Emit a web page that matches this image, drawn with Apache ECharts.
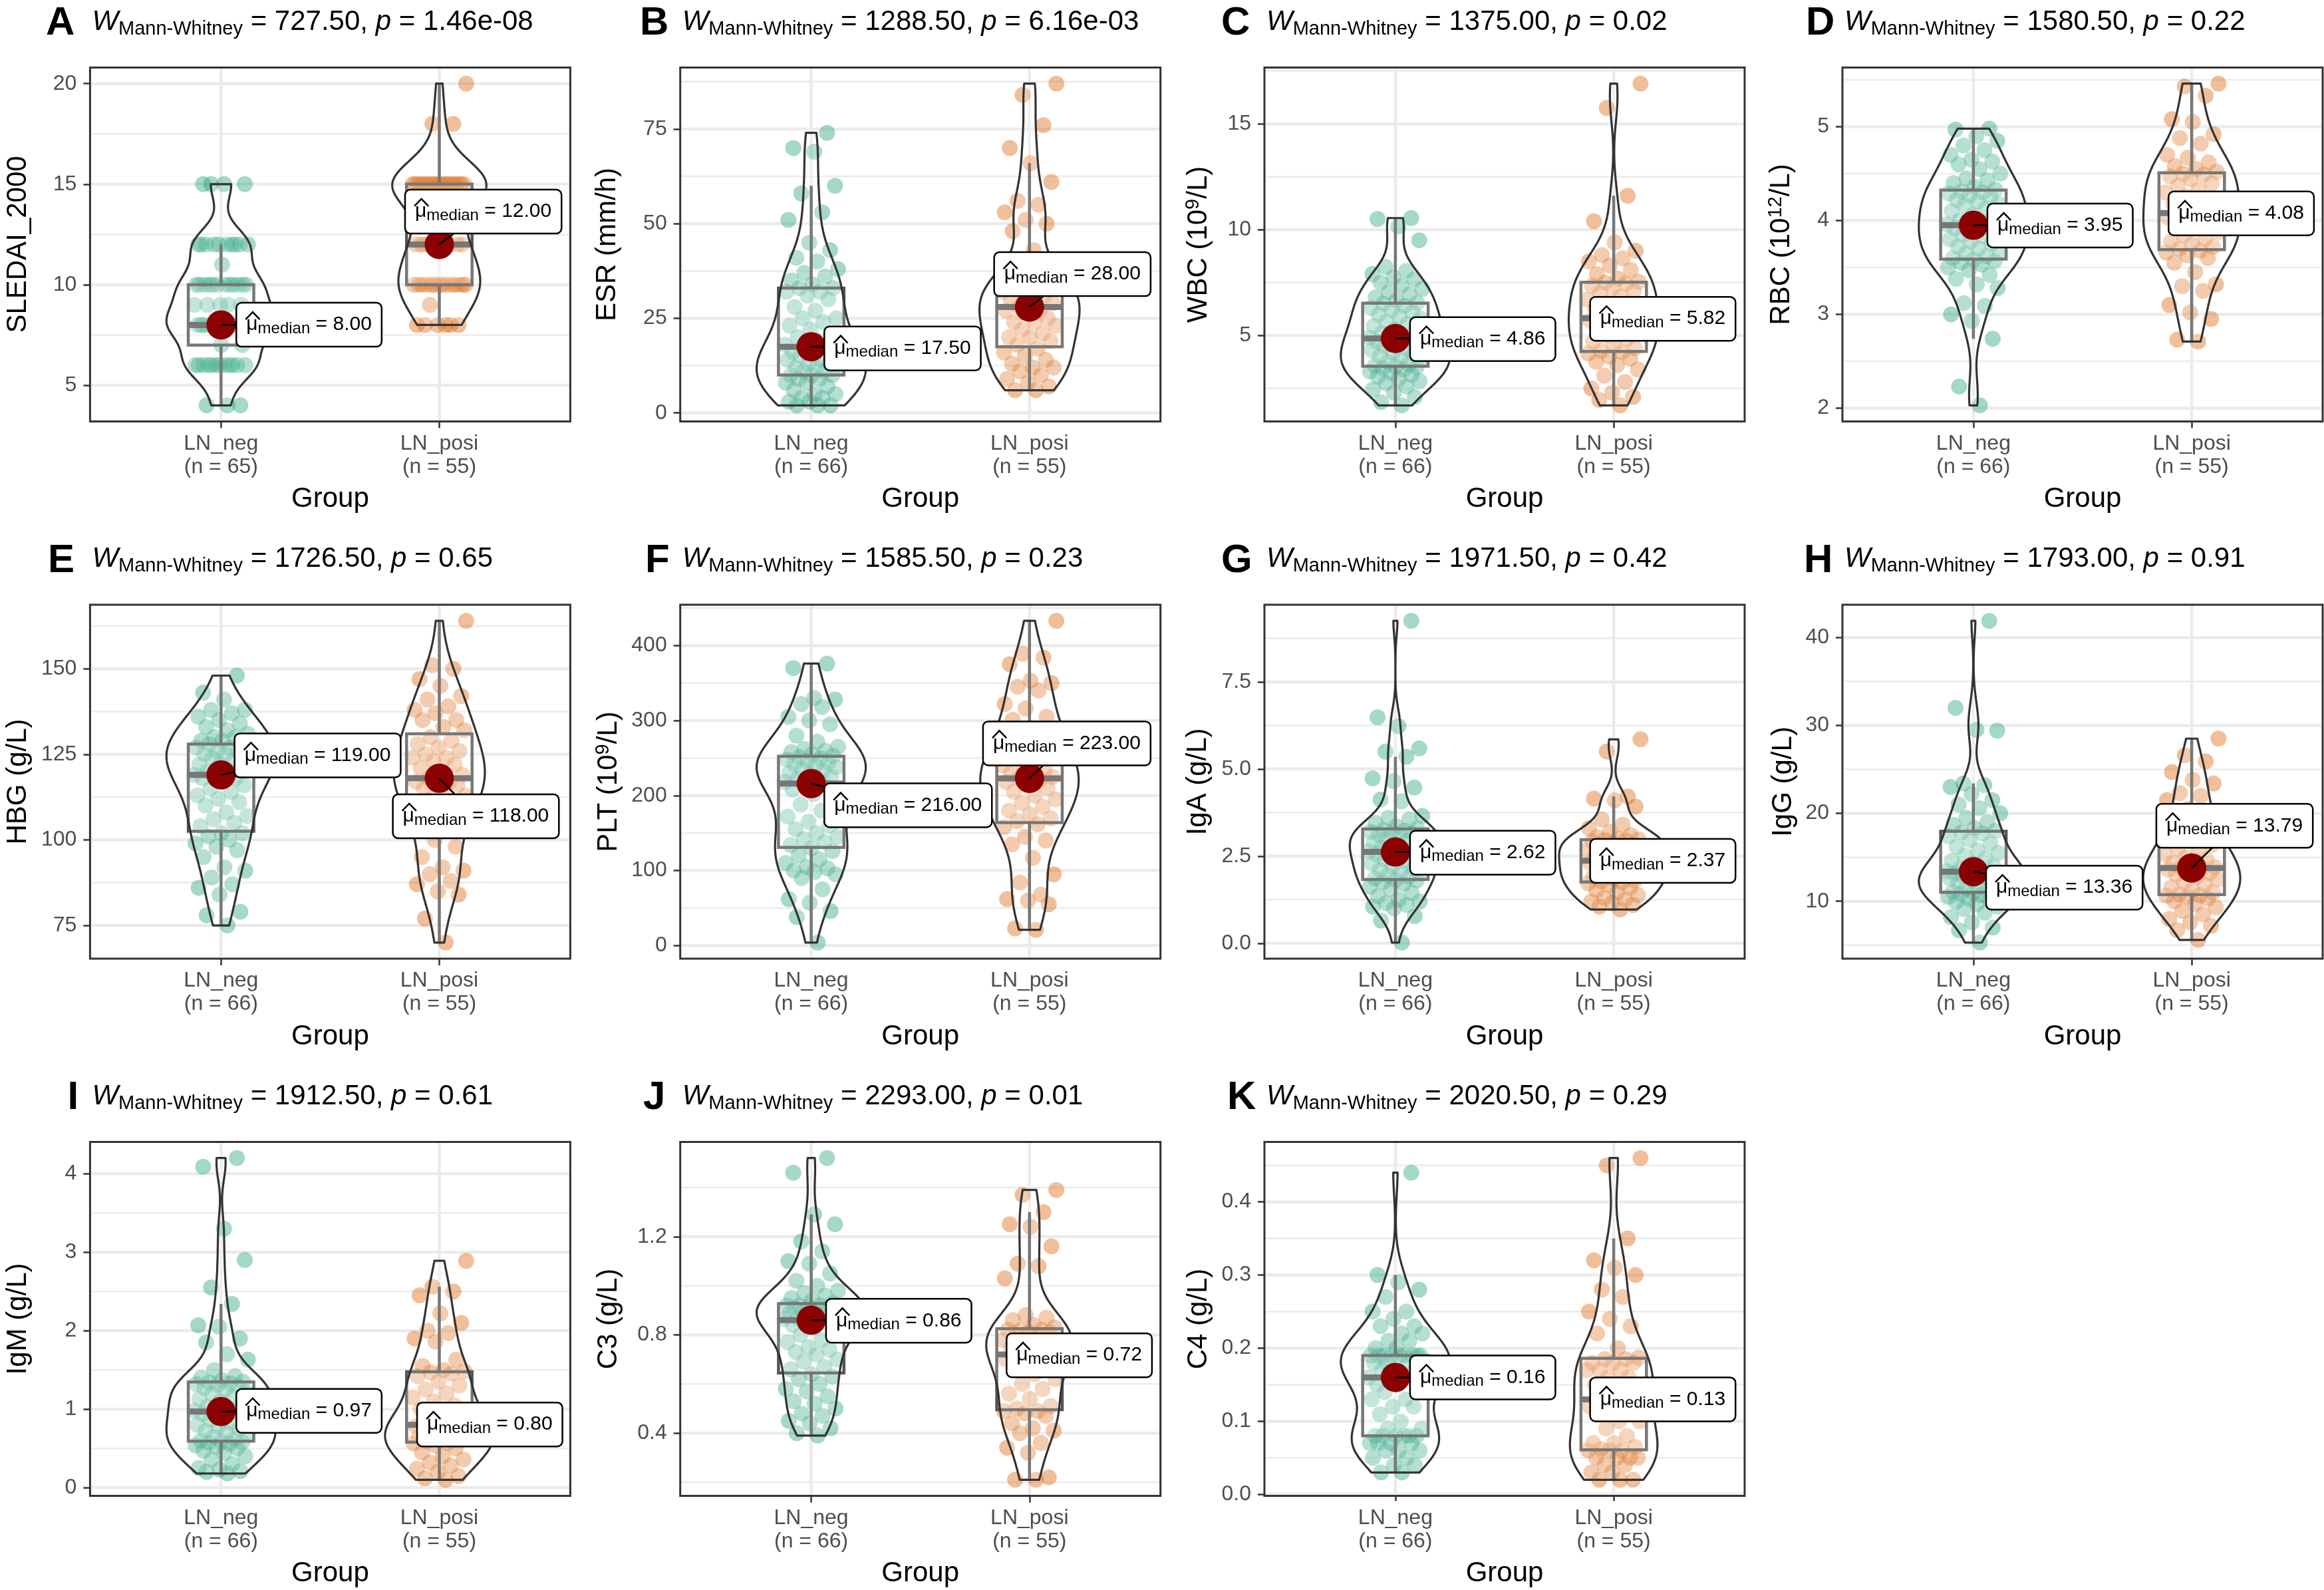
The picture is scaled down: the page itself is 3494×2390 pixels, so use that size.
<!DOCTYPE html>
<html><head><meta charset="utf-8">
<script src="https://cdn.jsdelivr.net/npm/echarts@6/dist/echarts.min.js"></script>
<style>html,body{margin:0;padding:0;background:#fff}#c{width:3494px;height:2390px}</style>
</head><body><div id="c"></div>
<script>
// ---------------- DATA ----------------
const groups = ['LN_neg', 'LN_posi'];
const panelLetters = ['A','B','C','D','E','F','G','H','I','J','K'];
const yTitles = ['SLEDAI_2000','ESR (mm/h)','WBC (10{sup|9}/L)','RBC (10{sup|12}/L)','HBG (g/L)','PLT (10{sup|9}/L)','IgA (g/L)','IgG (g/L)','IgM (g/L)','C3 (g/L)','C4 (g/L)'];
const wValues = ['727.50','1288.50','1375.00','1580.50','1726.50','1585.50','1971.50','1793.00','1912.50','2293.00','2020.50'];
const pValues = ['1.46e-08','6.16e-03','0.02','0.22','0.65','0.23','0.42','0.91','0.61','0.01','0.29'];
const medianNeg = ['8.00','17.50','4.86','3.95','119.00','216.00','2.62','13.36','0.97','0.86','0.16'];
const medianPosi = ['12.00','28.00','5.82','4.08','118.00','223.00','2.37','13.79','0.80','0.72','0.13'];
const yTicks = [[5,10,15,20],[0,25,50,75],[5,10,15],[2,3,4,5],[75,100,125,150],[0,100,200,300,400],[0,2.5,5,7.5],[10,20,30,40],[0,1,2,3,4],[0.4,0.8,1.2],[0,0.1,0.2,0.3,0.4]];
const yTickLabels = [['5','10','15','20'],['0','25','50','75'],['5','10','15'],['2','3','4','5'],['75','100','125','150'],['0','100','200','300','400'],['0.0','2.5','5.0','7.5'],['10','20','30','40'],['0','1','2','3','4'],['0.4','0.8','1.2'],['0.0','0.1','0.2','0.3','0.4']];

const sledai_neg = [4,4,4,6,6,6,6,6,6,6,6,6,6,6,6,7,7,8,8,8,8,8,8,8,8,8,8,8,8,8,8,8,8,9,9,9,9,9,10,10,10,10,10,10,10,10,10,10,10,10,11,12,12,12,12,12,12,12,12,12,12,15,15,15,15];
const sledai_posi = [8,8,8,8,8,8,9,10,10,10,10,10,10,10,10,10,10,10,10,10,10,12,12,12,12,12,12,12,12,12,12,15,15,15,15,15,15,15,15,15,15,15,15,15,15,15,15,15,15,15,15,15,18,18,20];
const esr_neg = [2,2,2,3,3,4,4,5,5,6,7,8,8,9,9,10,10,10,11,11,12,12,12,13,13,14,14,15,15,16,16,17,17,18,19,20,21,22,23,24,25,25,27,28,30,31,32,32,33,33,34,35,36,37,38,40,41,43,45,51,53,58,60,69,70,74];
const esr_posi = [6,6,7,8,9,10,11,12,12,13,14,15,16,17,18,19,20,20,21,22,23,24,24,25,26,27,27,28,29,29,30,31,31,32,33,34,34,35,35,36,36,38,43,48,50,51,53,55,56,61,66,70,76,84,87];
const wbc_neg = [1.70,1.85,2.10,2.30,2.45,2.60,2.75,2.85,2.95,3.05,3.15,3.25,3.30,3.40,3.45,3.50,3.54,3.58,3.65,3.75,3.85,3.95,4.00,4.10,4.20,4.30,4.40,4.50,4.55,4.60,4.70,4.78,4.82,4.90,5.00,5.10,5.20,5.30,5.45,5.55,5.65,5.80,5.90,6.00,6.10,6.20,6.30,6.40,6.50,6.54,6.65,6.80,6.95,7.05,7.20,7.35,7.50,7.65,7.75,7.90,8.05,8.25,9.50,10.15,10.50,10.55];
const wbc_posi = [1.70,1.95,2.10,2.30,2.50,2.80,3.10,3.40,3.60,3.75,3.90,4.00,4.15,4.22,4.28,4.40,4.55,4.70,4.85,5.00,5.15,5.30,5.40,5.50,5.60,5.70,5.78,5.82,5.95,6.10,6.25,6.40,6.55,6.70,6.85,7.00,7.10,7.25,7.35,7.45,7.50,7.54,7.70,7.90,8.10,8.30,8.50,8.65,8.80,9.00,9.40,10.40,11.60,15.75,16.90];
const rbc_neg = [2.03,2.23,2.74,2.93,3.00,3.09,3.12,3.28,3.32,3.38,3.42,3.47,3.50,3.53,3.55,3.57,3.585,3.60,3.62,3.65,3.67,3.70,3.72,3.75,3.78,3.80,3.83,3.85,3.88,3.90,3.92,3.94,3.94,3.96,3.98,4.00,4.03,4.06,4.10,4.13,4.16,4.18,4.20,4.22,4.25,4.27,4.29,4.30,4.31,4.33,4.36,4.40,4.43,4.45,4.50,4.55,4.60,4.63,4.65,4.70,4.75,4.80,4.85,4.90,4.97,4.98];
const rbc_posi = [2.71,2.73,2.95,3.02,3.10,3.25,3.30,3.32,3.45,3.55,3.60,3.63,3.66,3.68,3.70,3.72,3.75,3.78,3.80,3.84,3.88,3.92,3.95,3.98,4.00,4.03,4.06,4.08,4.12,4.15,4.18,4.22,4.26,4.30,4.33,4.37,4.40,4.44,4.47,4.49,4.50,4.52,4.55,4.58,4.62,4.67,4.70,4.82,4.88,4.92,5.05,5.08,5.33,5.43,5.46];
const hbg_neg = [75,78,79,84,86,87,89,91,92,95,97,98,99,100,101,102,102,104,105,106,107,108,110,111,112,113,114,115,116,117,118,118,119,119,120,120,121,122,122,123,124,124,125,125,126,126,127,127,128,128,129,129,130,130,131,132,133,134,135,136,137,138,138,141,143,148];
const hbg_posi = [70,77,84,85,87,88,90,91,92,95,98,100,103,104,106,107,109,110,111,112,113,114,115,116,116,117,117,118,119,120,121,122,123,124,124,125,126,127,128,129,130,132,133,135,135,137,138,139,141,142,145,147,150,151,164];
const plt_neg = [4,38,46,57,62,75,90,95,98,100,103,105,110,115,120,126,130,134,138,142,145,150,155,160,165,172,180,188,195,202,208,212,214,218,220,222,225,228,230,233,235,238,240,242,244,246,248,250,251,253,255,258,260,262,265,272,280,295,300,305,318,322,328,330,370,376];
const plt_posi = [21,23,55,60,62,68,84,95,117,135,140,145,158,162,166,170,175,180,185,190,195,200,205,210,214,218,221,223,225,227,230,233,236,240,245,250,258,265,270,275,278,282,290,301,305,316,322,340,345,350,353,375,384,389,433];
const iga_neg = [0.02,0.65,0.78,1.00,1.05,1.10,1.15,1.20,1.25,1.35,1.45,1.55,1.62,1.70,1.75,1.80,1.82,1.86,1.90,1.95,2.00,2.05,2.10,2.15,2.20,2.28,2.35,2.40,2.45,2.50,2.55,2.59,2.60,2.64,2.70,2.75,2.80,2.85,2.90,2.95,3.00,3.05,3.10,3.12,3.15,3.18,3.20,3.23,3.25,3.29,3.35,3.45,3.55,3.60,3.65,4.07,4.12,4.47,4.65,4.73,5.35,5.50,5.59,6.23,6.48,9.25];
const iga_posi = [0.97,1.05,1.10,1.15,1.20,1.25,1.30,1.38,1.45,1.52,1.60,1.67,1.72,1.75,1.77,1.80,1.85,1.90,1.95,2.00,2.05,2.10,2.15,2.20,2.25,2.30,2.34,2.37,2.42,2.48,2.52,2.58,2.63,2.68,2.72,2.78,2.82,2.87,2.92,2.95,2.96,2.98,3.00,3.05,3.10,3.20,3.30,3.40,3.55,3.92,4.10,4.15,4.21,5.50,5.85];
const igg_neg = [5.30,6.70,7.00,7.60,8.20,8.70,9.10,9.40,9.70,9.90,10.10,10.30,10.50,10.70,10.85,10.95,11.00,11.10,11.20,11.40,11.60,11.80,12.00,12.20,12.40,12.60,12.80,12.90,13.00,13.10,13.20,13.30,13.32,13.40,13.50,13.70,14.00,14.30,14.60,14.90,15.20,15.50,15.80,16.20,16.60,17.00,17.40,17.70,17.85,18.00,18.30,18.70,19.00,19.50,20.00,20.60,21.00,21.50,22.20,23.00,23.20,23.40,29.40,29.50,32.00,41.90];
const igg_posi = [5.60,6.70,7.20,7.60,8.00,8.50,8.90,9.30,9.70,10.00,10.30,10.50,10.65,10.70,10.80,11.00,11.30,11.60,11.90,12.20,12.50,12.80,13.00,13.20,13.40,13.60,13.70,13.79,13.90,14.10,14.40,14.70,15.00,15.30,15.60,16.00,16.40,16.80,17.20,17.60,17.90,18.10,18.60,19.20,19.80,20.50,21.50,22.00,22.30,23.40,23.80,24.70,25.90,26.60,28.50];
const igm_neg = [0.18,0.20,0.21,0.23,0.25,0.30,0.36,0.40,0.44,0.47,0.50,0.52,0.54,0.56,0.57,0.58,0.59,0.60,0.62,0.65,0.68,0.70,0.72,0.75,0.78,0.80,0.83,0.86,0.89,0.92,0.94,0.96,0.96,0.98,1.00,1.03,1.06,1.10,1.13,1.16,1.19,1.22,1.25,1.27,1.29,1.31,1.32,1.33,1.34,1.35,1.37,1.40,1.42,1.50,1.63,1.70,1.85,1.90,2.05,2.07,2.34,2.55,2.90,3.30,4.09,4.20];
const igm_posi = [0.10,0.12,0.15,0.20,0.24,0.28,0.32,0.36,0.40,0.45,0.50,0.54,0.56,0.57,0.59,0.61,0.63,0.65,0.67,0.69,0.71,0.73,0.75,0.76,0.77,0.78,0.79,0.80,0.85,0.92,1.00,1.05,1.10,1.15,1.20,1.25,1.30,1.35,1.42,1.45,1.47,1.48,1.50,1.55,1.63,1.86,1.90,1.97,2.00,2.10,2.22,2.45,2.50,2.56,2.89];
const c3_neg = [0.39,0.40,0.42,0.44,0.45,0.47,0.48,0.50,0.52,0.53,0.55,0.57,0.58,0.60,0.62,0.63,0.64,0.66,0.67,0.69,0.70,0.72,0.73,0.74,0.75,0.77,0.78,0.80,0.81,0.83,0.84,0.85,0.855,0.865,0.87,0.87,0.88,0.88,0.89,0.89,0.90,0.90,0.90,0.91,0.91,0.91,0.92,0.92,0.92,0.93,0.94,0.95,0.96,0.97,0.98,1.00,1.02,1.05,1.09,1.10,1.14,1.18,1.25,1.29,1.46,1.52];
const c3_posi = [0.21,0.21,0.22,0.32,0.34,0.36,0.40,0.41,0.42,0.44,0.47,0.48,0.49,0.49,0.50,0.51,0.54,0.56,0.58,0.60,0.62,0.64,0.66,0.68,0.69,0.70,0.71,0.72,0.73,0.74,0.75,0.76,0.77,0.78,0.79,0.80,0.81,0.81,0.82,0.82,0.82,0.83,0.84,0.86,0.87,0.88,1.03,1.08,1.09,1.16,1.24,1.25,1.30,1.37,1.39];
const c4_neg = [0.03,0.03,0.04,0.04,0.05,0.05,0.06,0.06,0.06,0.07,0.07,0.07,0.07,0.08,0.08,0.08,0.08,0.08,0.08,0.09,0.09,0.10,0.11,0.12,0.12,0.13,0.13,0.14,0.14,0.15,0.15,0.16,0.16,0.16,0.16,0.17,0.17,0.17,0.18,0.18,0.18,0.19,0.19,0.19,0.19,0.19,0.19,0.19,0.19,0.19,0.20,0.20,0.21,0.21,0.22,0.22,0.23,0.23,0.24,0.25,0.25,0.27,0.28,0.29,0.30,0.44];
const c4_posi = [0.02,0.02,0.02,0.03,0.03,0.04,0.04,0.05,0.05,0.05,0.05,0.06,0.06,0.06,0.062,0.065,0.07,0.07,0.08,0.09,0.10,0.10,0.11,0.11,0.12,0.12,0.125,0.13,0.14,0.15,0.15,0.16,0.16,0.17,0.17,0.17,0.18,0.18,0.18,0.185,0.185,0.187,0.20,0.22,0.23,0.24,0.25,0.27,0.28,0.30,0.31,0.32,0.35,0.45,0.46];

const panelData = [
  [sledai_neg, sledai_posi], [esr_neg, esr_posi], [wbc_neg, wbc_posi], [rbc_neg, rbc_posi],
  [hbg_neg, hbg_posi], [plt_neg, plt_posi], [iga_neg, iga_posi], [igg_neg, igg_posi],
  [igm_neg, igm_posi], [c3_neg, c3_posi], [c4_neg, c4_posi]
];

// ---------------- LAYOUT (positions / styles) ----------------
const LAYOUT = {
  gridLeft: [135.4, 1022.7, 1901, 2770, 135.4, 1022.7, 1901, 2770, 135.4, 1022.7, 1901],
  gridTop: [101.5, 101.5, 101.5, 101.5, 909, 909, 909, 909, 1716.5, 1716.5, 1716.5],
  gridW: 722, gridH: 532,
  letterLeft: [69, 962, 1836, 2715, 72, 970, 1836, 2712, 101.5, 967, 1845],
  nameGap: [84.5, 86, 76, 68.5, 84.5, 84.5, 76.5, 66, 84.5, 84.5, 76],
  // label anchor (left edge, vertical centre) in data units
  labelPos: [
    [[1.070, 8.01], [1.843, 13.64]],
    [[1.060, 17.06], [1.838, 36.66]],
    [[1.067, 4.83], [1.892, 5.79]],
    [[1.064, 3.947], [1.894, 4.076]],
    [[1.062, 124.7], [1.787, 106.9]],
    [[1.060, 187.0], [1.787, 269.6]],
    [[1.067, 2.60], [1.892, 2.363]],
    [[1.058, 11.55], [1.838, 18.58]],
    [[1.070, 0.978], [1.898, 0.805]],
    [[1.068, 0.8575], [1.895, 0.717]],
    [[1.067, 0.160], [1.892, 0.130]]
  ]
};
const FONT = "'Liberation Sans', Arial, Helvetica, sans-serif";
const COLORS = ['#1B9E77', '#D95F02'];

// ---------------- HELPERS ----------------
function quantile(s, p) { const h = (s.length - 1) * p; const lo = Math.floor(h); const hi = Math.min(lo + 1, s.length - 1); return s[lo] + (h - lo) * (s[hi] - s[lo]); }
function boxStats(vals) {
  const s = vals.slice().sort((a, b) => a - b);
  const q1 = quantile(s, 0.25), med = quantile(s, 0.5), q3 = quantile(s, 0.75), iqr = q3 - q1;
  const lf = q1 - 1.5 * iqr, uf = q3 + 1.5 * iqr;
  let lo = Infinity, hi = -Infinity;
  s.forEach(v => { if (v >= lf && v < lo) lo = v; if (v <= uf && v > hi) hi = v; });
  return { q1, med, q3, lo, hi };
}
function kde(vals) {
  const s = vals.slice().sort((a, b) => a - b); const n = s.length;
  const mean = s.reduce((a, b) => a + b, 0) / n;
  const sd = Math.sqrt(s.reduce((a, b) => a + (b - mean) * (b - mean), 0) / (n - 1));
  const iqr = quantile(s, 0.75) - quantile(s, 0.25);
  let lo = Math.min(sd, iqr / 1.34); if (!(lo > 0)) lo = sd || 1;
  const bw = 0.9 * lo * Math.pow(n, -0.2);
  const N = 300, ys = [], ds = [];
  for (let i = 0; i < N; i++) {
    const y = s[0] + (s[n - 1] - s[0]) * i / (N - 1); let d = 0;
    for (const v of s) { const z = (y - v) / bw; d += Math.exp(-0.5 * z * z); }
    ys.push(y); ds.push(d / (n * bw * Math.sqrt(2 * Math.PI)));
  }
  return { ys, ds };
}
const mctx = document.createElement('canvas').getContext('2d');
function textW(t, size) { mctx.font = size + 'px ' + FONT; return mctx.measureText(t).width; }
function jitter(i) { return (((i + 1) * 0.6180339887) % 1 - 0.5) * 2 * 0.125; }

const labelRich = {
  mu: { fontSize: 30, fontFamily: FONT, lineHeight: 36, fill: '#000' },
  sub: { fontSize: 24, fontFamily: FONT, lineHeight: 20, verticalAlign: 'bottom', fill: '#000' },
  t: { fontSize: 30, fontFamily: FONT, lineHeight: 36, fill: '#000' }
};

// ---------------- OPTION ----------------
const option = { animation: false, backgroundColor: '#fff', textStyle: { fontFamily: FONT }, title: [], grid: [], xAxis: [], yAxis: [], series: [] };

panelData.forEach((pd, k) => {
  const left = LAYOUT.gridLeft[k], top = LAYOUT.gridTop[k];
  const all = pd[0].concat(pd[1]);
  const dmin = Math.min(...all), dmax = Math.max(...all), pad = 0.05 * (dmax - dmin);
  const ymin = dmin - pad, ymax = dmax + pad;
  const ticks = yTicks[k].filter(v => v >= ymin && v <= ymax);
  const step = yTicks[k][1] - yTicks[k][0];
  const minors = [];
  for (let v = yTicks[k][0] - step / 2; v <= ymax; v += step) if (v >= ymin) minors.push(v);
  const stats = pd.map(boxStats);
  const dens = pd.map(kde);
  const maxD = Math.max(...dens[0].ds, ...dens[1].ds);
  const meds = [parseFloat(medianNeg[k]), parseFloat(medianPosi[k])];
  const medTxt = [medianNeg[k], medianPosi[k]];

  option.title.push({ left: LAYOUT.letterLeft[k], top: top - 95.8, padding: 0, text: panelLetters[k],
    textStyle: { fontFamily: FONT, fontSize: 60, fontWeight: 'bold', color: '#000', lineHeight: 60 } });
  option.title.push({ left: left + 3, top: top - 93.5, padding: 0,
    text: `{W|W}{sub|Mann-Whitney}{t| = ${wValues[k]}, }{p|p}{t| = ${pValues[k]}}`,
    textStyle: { fontFamily: FONT, fontSize: 42, fontWeight: 'normal', color: '#000',
      rich: {
        W: { fontFamily: FONT, fontSize: 42, fontStyle: 'italic', lineHeight: 50, color: '#000' },
        sub: { fontFamily: FONT, fontSize: 29, lineHeight: 26, verticalAlign: 'bottom', color: '#000' },
        t: { fontFamily: FONT, fontSize: 42, lineHeight: 50, color: '#000' },
        p: { fontFamily: FONT, fontSize: 42, fontStyle: 'italic', lineHeight: 50, color: '#000' }
      } } });

  option.grid.push({ left, top, width: LAYOUT.gridW, height: LAYOUT.gridH, show: true, borderColor: '#333', borderWidth: 3,
    backgroundColor: 'transparent', z: 10, containLabel: false, outerBoundsMode: 'none' });

  option.xAxis.push({ gridIndex: k, type: 'value', min: 0.4, max: 2.6,
    axisLine: { show: false }, splitLine: { show: false },
    axisTick: { show: true, customValues: [1, 2], length: 10, lineStyle: { color: '#333', width: 2.5 } },
    axisLabel: { show: true, customValues: [1, 2], margin: 16, fontSize: 32, lineHeight: 35, color: '#4D4D4D', fontFamily: FONT,
      formatter: v => { const g = Math.round(v) - 1; return groups[g] + '\n(n = ' + pd[g].length + ')'; } },
    name: 'Group', nameLocation: 'middle', nameGap: 94,
    nameTextStyle: { fontSize: 42, color: '#000', lineHeight: 46, fontFamily: FONT } });

  option.yAxis.push({ gridIndex: k, type: 'value', min: ymin, max: ymax,
    axisLine: { show: false }, splitLine: { show: false },
    axisTick: { show: true, customValues: ticks, length: 10, lineStyle: { color: '#333', width: 2.5 } },
    axisLabel: { show: true, customValues: ticks, margin: 20, fontSize: 32, color: '#4D4D4D', fontFamily: FONT,
      formatter: v => { const i = yTicks[k].findIndex(t => Math.abs(t - v) < 1e-9); return i >= 0 ? yTickLabels[k][i] : ''; } },
    name: yTitles[k], nameLocation: 'middle', nameGap: LAYOUT.nameGap[k], nameRotate: 90,
    nameTextStyle: { fontSize: 42, color: '#000', lineHeight: 46, fontFamily: FONT,
      rich: { sup: { fontSize: 29, lineHeight: 30, verticalAlign: 'top', color: '#000', fontFamily: FONT } } } });

  // grid lines
  option.series.push({ type: 'custom', xAxisIndex: k, yAxisIndex: k, z: 1, silent: true, clip: false,
    data: [[1.5, (ymin + ymax) / 2]],
    renderItem: (params, api) => {
      const ch = [];
      minors.forEach(v => { const a = api.coord([0.4, v]), b = api.coord([2.6, v]);
        ch.push({ type: 'line', shape: { x1: a[0], y1: a[1], x2: b[0], y2: b[1] }, style: { stroke: '#EBEBEB', lineWidth: 2.5 } }); });
      ticks.forEach(v => { const a = api.coord([0.4, v]), b = api.coord([2.6, v]);
        ch.push({ type: 'line', shape: { x1: a[0], y1: a[1], x2: b[0], y2: b[1] }, style: { stroke: '#EBEBEB', lineWidth: 4.5 } }); });
      [1, 2].forEach(x => { const a = api.coord([x, ymin]), b = api.coord([x, ymax]);
        ch.push({ type: 'line', shape: { x1: a[0], y1: a[1], x2: b[0], y2: b[1] }, style: { stroke: '#EBEBEB', lineWidth: 4.5 } }); });
      return { type: 'group', children: ch };
    } });

  // jittered points
  pd.forEach((vals, g) => {
    option.series.push({ type: 'scatter', xAxisIndex: k, yAxisIndex: k, z: 2, silent: true,
      symbol: 'circle', symbolSize: 24, itemStyle: { color: COLORS[g], opacity: 0.4, borderWidth: 0 },
      data: vals.map((v, i) => [g + 1 + jitter(i), v]) });
  });

  // boxplots
  option.series.push({ type: 'custom', xAxisIndex: k, yAxisIndex: k, z: 3, silent: true, clip: false,
    data: [[1, stats[0].med], [2, stats[1].med]],
    renderItem: (params, api) => {
      const g = params.dataIndex, st = stats[g], x = g + 1, hw = 0.15;
      const c = v => api.coord([x, v]);
      const tl = api.coord([x - hw, st.q3]), br = api.coord([x + hw, st.q1]);
      const ml = api.coord([x - hw, st.med]), mr = api.coord([x + hw, st.med]);
      const ls = { stroke: '#555', lineWidth: 4.5 };
      return { type: 'group', children: [
        { type: 'line', shape: { x1: c(st.q3)[0], y1: c(st.q3)[1], x2: c(st.hi)[0], y2: c(st.hi)[1] }, style: ls },
        { type: 'line', shape: { x1: c(st.q1)[0], y1: c(st.q1)[1], x2: c(st.lo)[0], y2: c(st.lo)[1] }, style: ls },
        { type: 'rect', shape: { x: tl[0], y: tl[1], width: br[0] - tl[0], height: br[1] - tl[1] }, style: { stroke: '#555', lineWidth: 4.5, fill: 'rgba(255,255,255,0.2)' } },
        { type: 'line', shape: { x1: ml[0], y1: ml[1], x2: mr[0], y2: mr[1] }, style: { stroke: '#555', lineWidth: 9 } }
      ] };
    } });

  // violins
  option.series.push({ type: 'custom', xAxisIndex: k, yAxisIndex: k, z: 4, silent: true, clip: false,
    data: [[1, stats[0].med], [2, stats[1].med]],
    renderItem: (params, api) => {
      const g = params.dataIndex, x = g + 1, d = dens[g], pts = [];
      for (let i = 0; i < d.ys.length; i++) pts.push(api.coord([x - 0.25 * d.ds[i] / maxD, d.ys[i]]));
      for (let i = d.ys.length - 1; i >= 0; i--) pts.push(api.coord([x + 0.25 * d.ds[i] / maxD, d.ys[i]]));
      return { type: 'polygon', shape: { points: pts }, style: { fill: 'rgba(255,255,255,0.2)', stroke: '#333', lineWidth: 3.2, lineJoin: 'round' } };
    } });

  // median points
  option.series.push({ type: 'scatter', xAxisIndex: k, yAxisIndex: k, z: 5, silent: true,
    symbol: 'circle', symbolSize: 44, itemStyle: { color: '#8B0000', opacity: 1 },
    data: [[1, meds[0]], [2, meds[1]]] });

  // median labels
  option.series.push({ type: 'custom', xAxisIndex: k, yAxisIndex: k, z: 6, silent: true, clip: false,
    data: [[1, meds[0]], [2, meds[1]]],
    renderItem: (params, api) => {
      const g = params.dataIndex; const lp = LAYOUT.labelPos[k][g];
      const p = api.coord(lp), d = api.coord([g + 1, meds[g]]);
      const muW = textW('\u03bc', 30);
      const w = muW + textW('median', 24) + textW(' = ' + medTxt[g], 30) + 30, h = 66;
      const L = p[0], T = p[1] - h / 2, R = L + w, B = T + h, cx = (L + R) / 2, cy = (T + B) / 2;
      const ch = [];
      const inside = d[0] >= L && d[0] <= R && d[1] >= T && d[1] <= B;
      if (!inside) {
        const dx = cx - d[0], dy = cy - d[1]; let best = 1;
        const cand = [];
        if (dx !== 0) { cand.push((L - d[0]) / dx, (R - d[0]) / dx); }
        if (dy !== 0) { cand.push((T - d[1]) / dy, (B - d[1]) / dy); }
        cand.forEach(t => { if (t >= 0 && t <= 1) { const X = d[0] + t * dx, Y = d[1] + t * dy;
          if (X >= L - 0.5 && X <= R + 0.5 && Y >= T - 0.5 && Y <= B + 0.5 && t < best) best = t; } });
        ch.push({ type: 'line', shape: { x1: d[0], y1: d[1], x2: d[0] + best * dx, y2: d[1] + best * dy }, style: { stroke: '#000', lineWidth: 2.5 } });
      }
      ch.push({ type: 'rect', shape: { x: L, y: T, width: w, height: h, r: 8 }, style: { fill: '#fff', stroke: '#000', lineWidth: 2.5 } });
      ch.push({ type: 'text', x: L + 15, y: cy, style: { text: `{mu|\u03bc}{sub|median}{t| = ${medTxt[g]}}`, rich: labelRich,
        align: 'left', verticalAlign: 'middle', fill: '#000', fontSize: 30, fontFamily: FONT } });
      // hat over mu
      const hx = L + 14;
      ch.push({ type: 'polyline', shape: { points: [[hx, T + 25], [hx + (muW + 4) / 2, T + 14], [hx + muW + 4, T + 25]] },
        style: { stroke: '#000', lineWidth: 2.5, fill: null, lineJoin: 'miter' } });
      return { type: 'group', children: ch };
    } });
});

const chart = echarts.init(document.getElementById('c'), null, { renderer: 'canvas', width: 3494, height: 2390 });
chart.setOption(option);
</script>
</body></html>
